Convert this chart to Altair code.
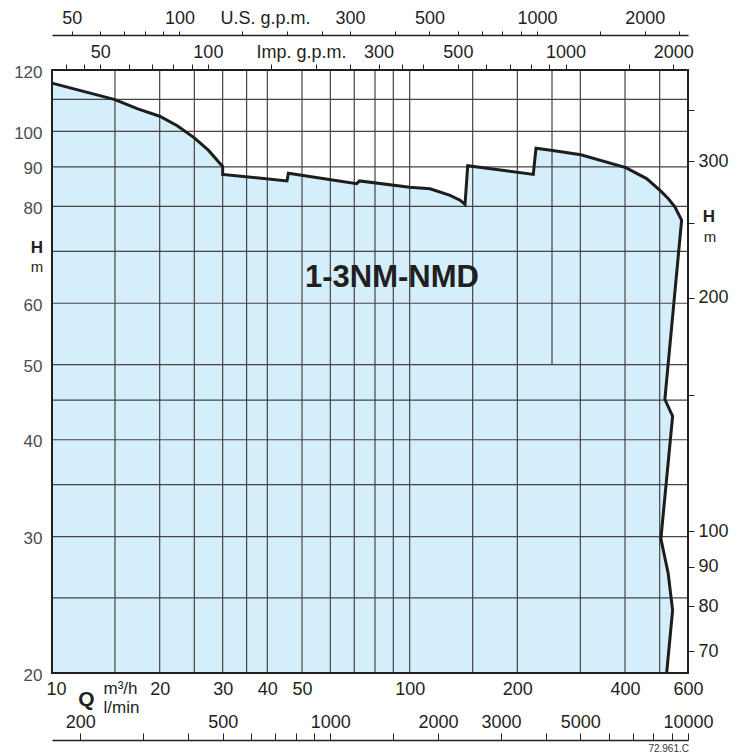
import altair as alt
import pandas as pd

# ---------------- data ----------------
# Pump range outline: flow Q (m3/h) and head H (m), in drawing order
curve_q = [10, 15, 17.3, 20, 22.4, 25, 27.4, 30, 30, 45.4, 45.8, 71.1, 72.4, 100, 114,
           129.7, 138.3, 142.8, 145.3, 221.6, 225.5, 251, 301, 402, 459.6, 502.9, 528.1,
           551.4, 575.8, 517, 543.4, 503.9, 528.1, 543.4, 523]
curve_h = [115.4, 109.9, 107.0, 104.6, 101.7, 98.1, 94.5, 90.1, 88.0, 86.3, 88.3, 85.6,
           86.3, 84.7, 84.3, 82.7, 81.5, 80.5, 90.3, 88.0, 95.1, 94.5, 93.3, 89.8, 86.9,
           83.8, 81.9, 79.9, 76.8, 45.1, 42.9, 29.8, 26.9, 24.1, 20]

q_domain = [10, 600]
h_domain = [20, 120]

q_labels = [10, 20, 30, 40, 50, 100, 200, 400, 600]
h_labels = [20, 30, 40, 50, 60, 80, 90, 100, 120]
vgrid_q = [15, 20, 25, 30, 35, 40, 50, 60, 70, 80, 90, 100, 150, 200, 300, 400, 500]
hgrid_h = [25, 30, 35, 40, 45, 50, 60, 70, 80, 90, 100, 110]
partial_grid_q = [250]
partial_grid_lo = [50]
partial_grid_hi = [120]

us_ticks = [50, 60, 70, 80, 90, 100, 150, 200, 250, 300, 400, 500, 600, 700, 800, 900,
            1000, 1500, 2000, 2500]
us_labels = [50, 100, 300, 500, 1000, 2000]
imp_ticks = [40, 45, 50, 60, 70, 80, 90, 100, 150, 200, 250, 300, 350, 400, 500, 600, 700,
             800, 900, 1000, 1500, 2000]
imp_labels = [50, 100, 300, 500, 1000, 2000]
lmin_ticks = [200, 300, 400, 500, 600, 700, 800, 900, 1000, 1500, 2000, 3000, 4000, 5000,
              6000, 7000, 8000, 9000, 10000]
lmin_labels = [200, 500, 1000, 2000, 3000, 5000, 10000]
ft_ticks = [70, 80, 90, 100, 150, 200, 250, 300, 350]
ft_labels = [70, 80, 90, 100, 200, 300]

US_GPM = 4.40287      # per m3/h
IMP_GPM = 3.66615
LMIN = 1000 / 60
FT = 3.28084

# ---------------- styles ----------------
FONT = "Liberation Sans"
INK = "#231f20"
FILL = "#d4eefb"
GRID = "#454545"
W, H = 636, 603


def xs():
    return alt.Scale(type="log", domain=q_domain, nice=False)


def ys():
    return alt.Scale(type="log", domain=h_domain, nice=False)


outline = pd.DataFrame({"Q": curve_q, "H": curve_h, "i": list(range(len(curve_q)))})
split = curve_q.index(502.9)
top_df = outline.iloc[: split + 1].reset_index(drop=True)
top_df["base"] = h_domain[0]
right_df = outline.iloc[split:].reset_index(drop=True)
right_df["edge"] = 470


def label_expr(vals):
    return "indexof([%s], datum.value) >= 0 ? datum.label : ''" % ",".join(str(v) for v in vals)


main_x_axis = alt.Axis(orient="bottom", values=q_labels, format="d", ticks=False, tickSize=0,
                       domain=False, grid=False, labelPadding=16, labelBaseline="middle",
                       labelFontSize=18, labelColor=INK, labelFlush=False, labelOverlap=False,
                       labelOffset={"condition": {"test": "datum.value == 10", "value": 4},
                                    "value": 0},
                       title="m³/h", titleX=68, titleY=15, titleAlign="center",
                       titleBaseline="middle", titleFontSize=17, titleFontWeight="normal",
                       titleColor=INK)
main_y_axis = alt.Axis(orient="left", values=h_labels, format="d", ticks=False, tickSize=0,
                       domain=False, grid=False, labelPadding=10, labelFontSize=17,
                       labelColor="#4d4d4d", labelOffset=2, labelFlush=False,
                       labelOverlap=False, title=None)

# filled operating range: below the top curve, and left of the right-hand limit
area_top = alt.Chart(top_df).mark_area(fill=FILL, opacity=1).encode(
    x=alt.X("Q:Q", scale=xs(), axis=None),
    y=alt.Y("H:Q", scale=ys(), axis=None, stack=False),
    y2="base:Q",
)
area_right = alt.Chart(right_df).mark_area(fill=FILL, opacity=1, orient="horizontal").encode(
    y=alt.Y("H:Q", scale=ys(), axis=None),
    x=alt.X("Q:Q", scale=xs(), axis=None, stack=False),
    x2="edge:Q",
)
vgrid = alt.Chart(pd.DataFrame({"g": vgrid_q})).mark_rule(color=GRID, strokeWidth=1.2).encode(
    x=alt.X("g:Q", scale=xs(), axis=None))
hgrid = alt.Chart(pd.DataFrame({"g": hgrid_h})).mark_rule(color=GRID, strokeWidth=1.2).encode(
    y=alt.Y("g:Q", scale=ys(), axis=None))
pgrid = alt.Chart(pd.DataFrame({"g": partial_grid_q, "lo": partial_grid_lo,
                                "hi": partial_grid_hi})).mark_rule(color=GRID, strokeWidth=1.2).encode(
    x=alt.X("g:Q", scale=xs(), axis=None),
    y=alt.Y("lo:Q", scale=ys(), axis=None),
    y2="hi:Q",
)
curve = alt.Chart(outline).mark_line(color="#1d1d1b", strokeWidth=3).encode(
    x=alt.X("Q:Q", scale=xs(), axis=None),
    y=alt.Y("H:Q", scale=ys(), axis=None),
    order="i:Q",
)
frame = alt.Chart(pd.DataFrame({"q0": [q_domain[0]], "q1": [q_domain[1]],
                                "h0": [h_domain[0]], "h1": [h_domain[1]]})).mark_rect(
    fill="transparent", stroke=INK, strokeWidth=2).encode(
    x=alt.X("q0:Q", scale=xs(), axis=None), x2="q1:Q",
    y=alt.Y("h0:Q", scale=ys(), axis=None), y2="h1:Q",
)
x_axis_layer = alt.Chart(pd.DataFrame({"v": q_labels})).mark_point(opacity=0).encode(
    x=alt.X("v:Q", scale=xs(), axis=main_x_axis))
y_axis_layer = alt.Chart(pd.DataFrame({"v": h_labels})).mark_point(opacity=0).encode(
    y=alt.Y("v:Q", scale=ys(), axis=main_y_axis))


def txt(s, x, y, size, weight="normal", align="center", color=INK):
    return alt.Chart(pd.DataFrame({"t": [s]})).mark_text(
        font=FONT, fontSize=size, fontWeight=weight, align=align, baseline="middle",
        color=color).encode(text="t:N", x=alt.value(x), y=alt.value(y))


texts = [
    txt("1-3NM-NMD", 340, 208, 31, "bold"),
    txt("H", -15, 178, 17, "bold"),
    txt("m", -15, 197, 15),
    txt("H", 657, 147, 17, "bold"),
    txt("m", 658, 167, 15),
    txt("Q", 34.5, 629.5, 21, "bold"),
    txt("72.961.C", 637, 678.5, 10, align="right", color="#333333"),
]


def top_axis(ticks, labels, factor, offset, tick_size, pad, domain, title, tx, ty, tsize=18):
    ax = alt.Axis(orient="top", offset=offset, values=ticks, format="d",
                  labelExpr=label_expr(labels), tickSize=tick_size, tickColor=INK,
                  tickWidth=1, labelPadding=pad, labelBaseline="middle", labelFontSize=18,
                  labelColor=INK, labelFlush=False, labelOverlap=False, labelBound=False,
                  domain=domain, domainColor=INK, domainWidth=1.5, grid=False,
                  title=title, titleX=tx, titleY=ty, titleAlign="center",
                  titleBaseline="middle", titleFontSize=tsize, titleFontWeight="normal",
                  titleColor=INK, titleAngle=0)
    return alt.Chart(pd.DataFrame({"v": ticks})).mark_point(opacity=0).encode(
        x=alt.X("v:Q", scale=alt.Scale(type="log", nice=False,
                                        domain=[q_domain[0] * factor, q_domain[1] * factor]),
                axis=ax))


us_layer = top_axis(us_ticks, us_labels, US_GPM, 35, 4, 13, True, "U.S. g.p.m.", 213, -17)
imp_layer = top_axis(imp_ticks, imp_labels, IMP_GPM, 0, 6, 12, False, "Imp. g.p.m.", 249, -18)
lmin_layer = top_axis(lmin_ticks, lmin_labels, LMIN, -670, 7, 11, True, "l/min", 69, -33, 17)

ft_layer = alt.Chart(pd.DataFrame({"v": ft_ticks})).mark_point(opacity=0).encode(
    y=alt.Y("v:Q", scale=alt.Scale(type="log", nice=False,
                                    domain=[h_domain[0] * FT, h_domain[1] * FT]),
            axis=alt.Axis(orient="right", values=ft_ticks, format="d",
                          labelExpr=label_expr(ft_labels), tickSize=6, tickColor=INK,
                          tickWidth=1, labelPadding=4, labelFontSize=18, labelColor=INK,
                          labelFlush=False, labelOverlap=False, labelBound=False,
                          domain=False, grid=False, title=None)))

chart = alt.layer(area_top, area_right, vgrid, hgrid, pgrid, curve, frame,
                  x_axis_layer, y_axis_layer, *texts,
                  us_layer, imp_layer, lmin_layer, ft_layer).resolve_scale(
    x="independent", y="independent"
).properties(
    width=W, height=H,
    padding={"left": 44, "top": 62, "right": 48, "bottom": 80},
    autosize=alt.AutoSizeParams(type="none"),
    background="white",
).configure(font=FONT).configure_view(strokeWidth=0)

chart.save("out.html", embed_options={"renderer": "svg", "actions": False})
